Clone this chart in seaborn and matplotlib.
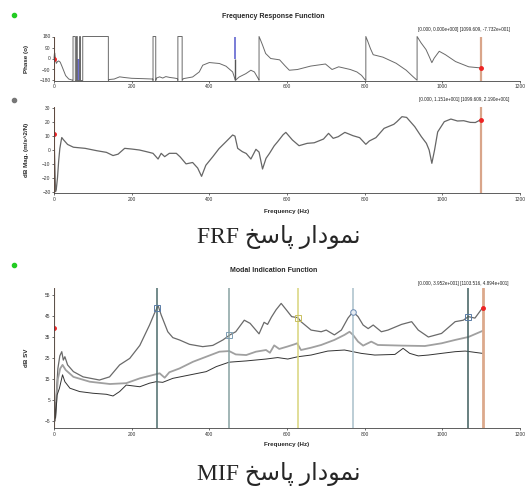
import matplotlib
matplotlib.use("Agg")
import matplotlib.pyplot as plt
import seaborn as sns
import pandas as pd
from matplotlib.lines import Line2D

# ---- data ----
phase_hz = [0, 1, 2, 4, 6, 9, 12, 16, 20, 25, 30, 38, 48,
            49, 49, 55, 55, 58, 58, 60, 60, 66, 66, 68, 68, 74, 74, 140, 140,
            142, 155, 169, 180, 200, 230, 254, 255, 255, 262, 262, 264, 272, 280, 288,
            298, 310, 318, 319, 319, 330, 330, 333, 357, 374, 383, 400, 426, 443, 460,
            467, 477, 494, 507, 516, 526, 528, 528, 532, 537, 545, 558, 581, 595, 606,
            627, 661, 699, 716, 733, 763, 780, 792, 800, 803, 803, 808, 815, 822, 847,
            881, 907, 925, 935, 935, 945, 958, 967, 973, 979, 992, 1008, 1034, 1068, 1099.6]
phase_deg = [0, 40, 45, -10, -40, -25, -20, -30, -60, -100, -140, -168, -178,
             -180, 180, 180, -180, -180, 180, 180, -180, -180, 180, 180, -180, -180, 180, 180, -180,
             -172, -168, -150, -155, -162, -165, -168, -180, 180, 180, -180, -160, -150, -160, -148,
             -155, -160, -165, -180, 180, 180, -180, -165, -151, -110, -55, -33, -41, -63, -110,
             -178, -151, -124, -96, -110, -165, -178, 180, 150, 110, 41, 0, -11, -60, -96,
             -90, -62, -45, -90, -68, -90, -110, -138, -170, -180, 180, 140, 80, 31, 11,
             -39, -96, -150, -178, 180, 129, 73, 10, -34, 3, 59, 31, -25, -68, -77.3]

mag_hz = [0, 2, 4, 6, 9, 12, 15, 18, 20, 24, 35, 50, 80, 110, 135, 152, 165, 182, 200,
          220, 238, 255, 268, 276, 285, 297, 315, 325, 340, 357, 370, 380, 391, 409, 425,
          443, 460, 466, 473, 485, 495, 507, 520, 528, 537, 546, 555, 567, 576, 590, 597,
          614, 631, 652, 670, 694, 707, 719, 732, 749, 770, 787, 803, 812, 829, 850, 875,
          883, 896, 908, 929, 946, 959, 966, 973, 980, 988, 1005, 1022, 1039, 1055, 1072,
          1085, 1099.6]
mag_db = [11.5, -10, -30, -28, -20, -8, 1, 6, 9, 7.5, 4, 2, 1.2, -0.5, -1.7, -4, -3, 1.2, 0.7,
          0, -1.2, -2.4, -6.5, -2.4, -4.8, -2.4, -2.4, -5, -10, -9, -13, -19, -11, -4.8, 1,
          6, 10.8, 10, 1.2, -1.2, -2.5, -6.5, 0.5, -1.5, -13.7, -6, -2.4, 3, 6, 11, 12.7,
          7.2, 3.1, 4.8, 5.2, 7.9, 12, 8.4, 9.6, 12.7, 10.3, 8.9, 4.1, 6.5, 8.9, 15.6, 18.5,
          20.4, 24, 23.5, 16.8, 9.6, 4.8, 0, -9.6, 0, 13, 20.4, 22.3, 20.9, 21.1, 19.9,
          19.8, 21.9]

sv1_hz = [0, 3, 6, 10, 15, 20, 24, 28, 35, 50, 75, 117, 143, 169, 195, 221, 246, 258, 268,
          276, 293, 306, 323, 349, 383, 409, 435, 453, 468, 490, 505, 528, 541, 550, 560, 572,
          585, 598, 612, 628, 636, 662, 688, 701, 722, 740, 757, 770, 783, 796, 809, 822, 843,
          860, 895, 921, 938, 964, 998, 1033, 1054, 1067, 1084, 1103.5]
sv1_db = [2, -5, 8, 20, 26, 28, 24, 25.6, 21.7, 18.5, 16, 14.5, 16, 21.7, 24.8, 31, 40.7, 46, 50,
          45.5, 37.5, 34.7, 33.6, 31.5, 30.4, 31, 33.6, 36, 37.5, 43, 41.5, 36.5, 42, 41, 44.5, 48,
          51, 48, 44.7, 44.2, 42.3, 38.3, 37.5, 38.3, 36, 38.3, 44, 47, 44.7, 40.7, 39, 40.7, 37.5,
          38.3, 41, 42.3, 38.3, 35, 36.7, 42.3, 43, 44.7, 44, 48.9]

sv2_hz = [0, 3, 6, 10, 16, 22, 30, 50, 92, 144, 186, 221, 255, 272, 285, 297, 323, 358, 392,
          426, 451, 468, 495, 520, 546, 556, 567, 580, 602, 619, 626, 636, 662, 688, 722, 748,
          761, 770, 783, 796, 817, 834, 895, 955, 998, 1033, 1067, 1103.5]
sv2_db = [0, -3, 5, 15, 20, 21.7, 19.3, 16, 13.7, 12.6, 13, 15.3, 16.9, 17.7, 15.6, 18.2, 20,
          23.2, 25.6, 28, 28.3, 26.7, 26.4, 28, 28.8, 27.5, 31, 29.3, 30.5, 31.5, 32, 28.8, 29.9,
          31.2, 33.6, 36, 37.5, 36, 32.8, 30.9, 32.8, 31.2, 30.9, 30.7, 32, 33.6, 35, 37.9]

sv3_hz = [0, 2, 4, 8, 14, 22, 28, 41, 66, 100, 135, 152, 169, 186, 221, 246, 263, 280, 306,
          349, 392, 418, 451, 495, 546, 576, 602, 628, 662, 705, 748, 770, 791, 826, 878, 899,
          916, 938, 964, 998, 1033, 1059, 1103.5]
sv3_db = [-2, 4, -3.7, 7.4, 10.6, 17, 13.7, 10.6, 9, 8.2, 7.7, 6.9, 9, 12.1, 11.3, 13, 13.7,
          13.4, 15.3, 16.9, 18.5, 20.9, 23, 23.6, 24.5, 25.2, 24.5, 25.6, 26.4, 28.3, 28.8, 28,
          27.2, 26.4, 26.7, 29.6, 27.2, 26, 26.4, 27.2, 28, 28.3, 27.2]

mif_cursor_hz = [265, 450, 628, 770, 1067]
mif_cursor_db = [49, 36, 44.2, 47, 44.7]
mif_cursor_colors = ["#4b6b6b", "#88a2a2", "#d8d47c", "#aac0ca", "#3f5d5d"]
mif_marker_colors = ["#5a7ca6", "#7f9fb4", "#c9c060", "#6a8ab2", "#5a7ca6"]

frf_cursors = [0, 1099.6]
mif_cursors = [0, 1103.5]
phase_blue_cursor = 467
phase_blue_band = [58, 68]

annot_phase = "[0.000, 0.000e+000] [1099.609, -7.732e+001]"
annot_mag = "[0.000, 1.151e+001] [1099.609, 2.190e+001]"
annot_mif = "[0.000, 3.952e+001] [1103.516, 4.894e+001]"
caption_frf = "نمودار پاسخ FRF"
caption_mif = "نمودار پاسخ MIF"

# minimal Persian shaping (matplotlib has no bidi / joining support)
FORMS = {
    "ن": ("\uFEE5", "\uFEE6", "\uFEE7", "\uFEE8"),
    "م": ("\uFEE1", "\uFEE2", "\uFEE3", "\uFEE4"),
    "و": ("\uFEED", "\uFEEE", None, None),
    "د": ("\uFEA9", "\uFEAA", None, None),
    "ا": ("\uFE8D", "\uFE8E", None, None),
    "ر": ("\uFEAD", "\uFEAE", None, None),
    "پ": ("\uFB56", "\uFB57", "\uFB58", "\uFB59"),
    "س": ("\uFEB1", "\uFEB2", "\uFEB3", "\uFEB4"),
    "خ": ("\uFEA5", "\uFEA6", "\uFEA7", "\uFEA8"),
}


def shape_word(word):
    out = []
    for i, ch in enumerate(word):
        iso, fin, ini, med = FORMS[ch]
        prev_j = i > 0 and FORMS[word[i - 1]][2] is not None
        next_j = i < len(word) - 1 and ini is not None
        if prev_j and next_j:
            out.append(med)
        elif prev_j:
            out.append(fin)
        elif next_j:
            out.append(ini)
        else:
            out.append(iso)
    return "".join(reversed(out))


def visual(text):
    words = text.split(" ")
    words = [shape_word(w) if w[0] in FORMS else w for w in words]
    return " ".join(reversed(words))


sns.set_theme(style="ticks")
plt.rcParams["font.family"] = ["Liberation Sans", "DejaVu Sans"]
plt.rcParams["axes.linewidth"] = 0.6
plt.rcParams["axes.edgecolor"] = "#444444"

fig = plt.figure(figsize=(5.3, 4.88), dpi=100)
L, W = 54 / 530, 466 / 530
ax1 = fig.add_axes([L, 1 - 80.5 / 488, W, 44 / 488])
ax2 = fig.add_axes([L, 1 - 193.3 / 488, W, 86.6 / 488])
ax3 = fig.add_axes([L, 1 - 428.3 / 488, W, 140 / 488])

for ax in (ax1, ax2, ax3):
    ax.set_xlim(0, 1200)
    ax.set_xticks(range(0, 1201, 200))
    ax.tick_params(direction="out", length=1.5, width=0.5, labelsize=3.5, pad=1,
                   colors="#333333")
    sns.despine(ax=ax)

# phase
df_phase = pd.DataFrame({"hz": phase_hz, "deg": phase_deg})
ax1.fill_between(phase_blue_band, 0, -180, color="#6d6ed4", lw=0)
sns.lineplot(data=df_phase, x="hz", y="deg", ax=ax1, sort=False, estimator=None,
             color="#6a6a6a", lw=0.7, clip_on=False)
ax1.vlines(phase_blue_cursor, 0, 180, color="#6266d0", lw=1.2)
ax1.vlines(phase_blue_cursor, -180, 0, color="#555555", lw=1.0)
ax1.axvline(frf_cursors[0], color="#e0703a", lw=0.8)
ax1.axvline(frf_cursors[1], color="#d9a58a", lw=1.6)
ax1.plot(frf_cursors, [phase_deg[0], phase_deg[-1]], "o", color="#ee2222", ms=2.5, ls="none")
ax1.set_ylim(-180, 180)
ax1.set_yticks([-180, -90, 0, 90, 180])
ax1.set_ylabel("Phase (o)", fontsize=4.5, fontweight="bold")
ax1.set_xlabel("")

# magnitude
df_mag = pd.DataFrame({"hz": mag_hz, "db": mag_db})
sns.lineplot(data=df_mag, x="hz", y="db", ax=ax2, sort=False, estimator=None,
             color="#666666", lw=0.9)
ax2.axvline(frf_cursors[0], color="#e0703a", lw=0.8)
ax2.axvline(frf_cursors[1], color="#d9a58a", lw=1.6)
ax2.plot(frf_cursors, [mag_db[0], mag_db[-1]], "o", color="#ee2222", ms=2.5, ls="none")
ax2.set_ylim(-31.2, 31.2)
ax2.set_yticks(range(-30, 31, 10))
ax2.set_ylabel("dB Mag. (m/s^2/N)", fontsize=4.5, fontweight="bold")
ax2.set_xlabel("Frequency (Hz)", fontsize=4.5, fontweight="bold")
ax2.xaxis.set_label_coords(0.5, -0.21)

# MIF
traces = [("sv1", sv1_hz, sv1_db, "#6a6a6a", 0.9),
          ("sv2", sv2_hz, sv2_db, "#a0a0a0", 1.3),
          ("sv3", sv3_hz, sv3_db, "#333333", 0.7)]
for name, hz, db, col, lw in traces:
    sns.lineplot(x=hz, y=db, ax=ax3, sort=False, estimator=None, color=col, lw=lw)
for hz, col in zip(mif_cursor_hz, mif_cursor_colors):
    ax3.axvline(hz, color=col, lw=1.1)
ax3.axvline(mif_cursors[0], color="#dca27e", lw=1.6)
ax3.axvline(mif_cursors[1], color="#dca98c", lw=2.0)
for i, (hz, db, mc) in enumerate(zip(mif_cursor_hz, mif_cursor_db, mif_marker_colors)):
    mk = "o" if i == 3 else "s"
    ax3.plot(hz, db, marker=mk, ms=4, mfc="#e8eef4" if i == 3 else "none", mec=mc, mew=0.7)
ax3.plot(mif_cursors, [39.52, sv1_db[-1]], "o", color="#ee2222", ms=2.5, ls="none")
ax3.set_ylim(-8.5, 58.2)
ax3.set_yticks(range(-5, 56, 10))
ax3.set_ylabel("dB SV", fontsize=4.5, fontweight="bold")
ax3.set_xlabel("Frequency (Hz)", fontsize=4.5, fontweight="bold")
ax3.xaxis.set_label_coords(0.5, -0.115)

for ax in (ax1, ax2, ax3):
    ax.yaxis.set_label_coords(-0.053, 0.5)
    ax.xaxis.label.set_va("center")

# titles, cursor readouts, captions
fig.text(273 / 530, 1 - 17 / 488, "Frequency Response Function", ha="center", va="center",
         fontsize=5, fontweight="bold")
fig.text(274 / 530, 1 - 270 / 488, "Modal Indication Function", ha="center", va="center",
         fontsize=5, fontweight="bold")
fig.text(418 / 530, 1 - 29 / 488, annot_phase, fontsize=3.3, va="center", color="#222222")
fig.text(419 / 530, 1 - 100 / 488, annot_mag, fontsize=3.3, va="center", color="#222222")
fig.text(418 / 530, 1 - 284 / 488, annot_mif, fontsize=3.3, va="center", color="#222222")

for txt, y in [(caption_frf, 236.5), (caption_mif, 474)]:
    fig.text(279 / 530, 1 - y / 488, visual(txt), ha="center", va="center", fontsize=17,
             family=["Liberation Serif", "DejaVu Sans"])

# status dots at left
for y, col in [(15, "#22cc22"), (100, "#777777"), (265, "#22cc22")]:
    fig.add_artist(Line2D([14 / 530], [1 - y / 488], marker="o", ms=3, color=col,
                          transform=fig.transFigure))

fig.savefig("out.png", dpi=100)
